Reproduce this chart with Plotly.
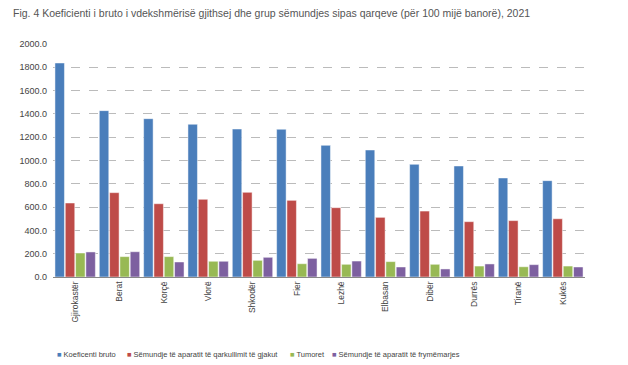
import plotly.graph_objects as go

categories = ["Gjirokastër", "Berat", "Korçë", "Vlorë", "Shkodër", "Fier", "Lezhë",
              "Elbasan", "Dibër", "Durrës", "Tiranë", "Kukës"]
koeficenti_bruto = [1837, 1428, 1359, 1311, 1270, 1268, 1130, 1090, 967, 953, 850, 827]
qarkullimi_gjakut = [635, 724, 629, 667, 727, 658, 595, 512, 566, 475, 484, 500]
tumoret = [206, 175, 175, 135, 143, 114, 109, 132, 109, 94, 88, 94]
frymemarrje = [215, 217, 129, 135, 169, 160, 137, 86, 69, 112, 106, 86]

series_names = ["Koeficenti bruto", "Sëmundje të aparatit të qarkullimit të gjakut",
                "Tumoret", "Sëmundje të aparatit të frymëmarjes"]
colors = ["#4a7ebb", "#be4b48", "#98b954", "#7d60a0"]
yticks = [0, 200, 400, 600, 800, 1000, 1200, 1400, 1600, 1800, 2000]

# the page body adds an 8px offset, so the figure is 8px smaller than the window
W, H = 620, 357
FONT = "Liberation Sans, Arial, sans-serif"
legend_ids = ["legend", "legend2", "legend3", "legend4"]
legend_x = [9, 79, 242, 284]

fig = go.Figure()
for name, vals, c in zip(series_names,
                         [koeficenti_bruto, qarkullimi_gjakut, tumoret, frymemarrje], colors):
    fig.add_trace(go.Bar(x=categories, y=vals, name=name, showlegend=False,
                         marker=dict(color=c, line=dict(color="rgba(255,255,255,0.6)", width=0.8))))

# legend entries: coloured square glyph + label
for name, c, lid in zip(series_names, colors, legend_ids):
    fig.add_trace(go.Scatter(x=[None], y=[None], mode="markers", legend=lid,
                             name=f"<span style='color:{c}'>■</span> {name}",
                             marker=dict(size=1, color="rgba(0,0,0,0)"),
                             hoverinfo="skip"))

legend_common = dict(orientation="h", xref="container", yref="container", xanchor="left",
                     y=1 - 346 / H, yanchor="middle", bgcolor="rgba(0,0,0,0)",
                     font=dict(family=FONT, size=7.5, color="#444444"), itemwidth=30)

layout_legends = {}
for lid, lx in zip(legend_ids, legend_x):
    layout_legends[lid] = dict(legend_common, x=lx / W)

fig.update_layout(
    width=W, height=H,
    margin=dict(l=45, r=43, t=36, b=88, autoexpand=False),
    paper_bgcolor="white", plot_bgcolor="white",
    barmode="group", bargap=0.07, bargroupgap=0.08,
    font=dict(family=FONT, size=9, color="#333333"),
    title=dict(text="Fig. 4 Koeficienti i bruto i vdekshmërisë gjithsej dhe grup sëmundjes sipas qarqeve (për 100 mijë banorë), 2021",
               x=5 / W, xanchor="left", y=1 - 5 / H, yanchor="middle",
               font=dict(family=FONT, size=10.5, color="#555555")),
    showlegend=True,
    xaxis=dict(tickangle=-90, showgrid=False, showline=True, linecolor="#888888",
               linewidth=1, ticks="", automargin=False,
               tickfont=dict(size=8.5, color="#444444")),
    yaxis=dict(range=[0, 2000], tickvals=yticks, ticktext=[f"{v:.1f}" for v in yticks],
               showgrid=True, gridcolor="#bbbbbb", griddash="dash", gridwidth=1,
               zeroline=False, showline=False, ticks="", automargin=False,
               ticklabelstandoff=5,
               tickfont=dict(size=9, color="#444444")),
    **layout_legends,
)

fig.write_html("out.html")
